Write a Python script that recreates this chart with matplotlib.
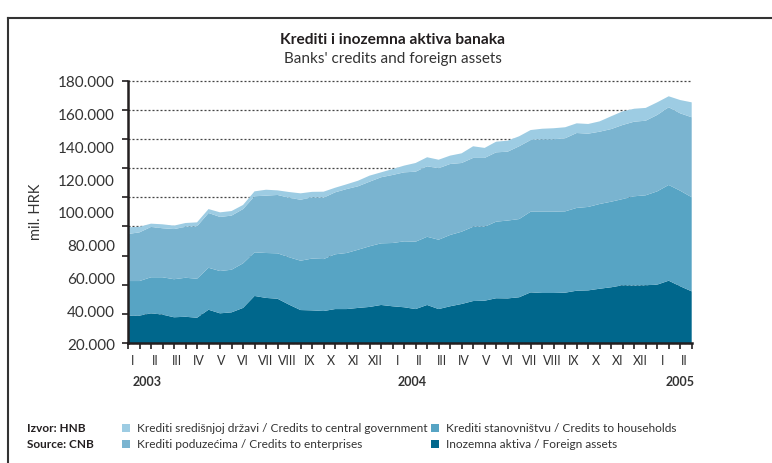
import numpy as np
import matplotlib
matplotlib.use('Agg')
import matplotlib.pyplot as plt
from matplotlib.lines import Line2D
from matplotlib.patches import Rectangle
import matplotlib.transforms as mtransforms

plt.rcParams['font.family'] = ['Lato', 'DejaVu Sans']

# ---------------- data (mil. HRK) ----------------
months = ['I', 'II', 'III', 'IV', 'V', 'VI', 'VII', 'VIII', 'IX', 'X', 'XI', 'XII',
          'I', 'II', 'III', 'IV', 'V', 'VI', 'VII', 'VIII', 'IX', 'X', 'XI', 'XII',
          'I', 'II']
years = ['2003', '2004', '2005']
y_labels = ['20.000', '40.000', '60.000', '80.000', '100.000', '120.000',
            '140.000', '160.000', '180.000']

foreign = [36700, 36700, 38100, 37300, 35700, 36000, 35400, 40300, 38100, 38700,
           41400, 48700, 47500, 47000, 43400, 40100, 39900, 39500, 40700, 40700,
           41400, 42000, 43200, 42400, 41800, 40700, 43200, 40700, 42400, 43800,
           45600, 45800, 47300, 47200, 47900, 50900, 50500, 50500, 50700, 51900,
           52100, 53100, 54000, 55200, 55000, 55200, 55600, 58000, 54600, 51500]
households = [21100, 21100, 22000, 22800, 23200, 23800, 23800, 25600, 25800, 26000,
              27200, 26600, 27400, 27700, 28900, 30100, 31600, 31700, 33400, 34200,
              35500, 37000, 37600, 38600, 40200, 41100, 41600, 42300, 43500, 44100,
              45300, 45100, 46700, 47500, 47700, 49200, 49600, 49600, 49600, 50500,
              50900, 51700, 52200, 52600, 54500, 54900, 56900, 58400, 58300, 57400]
enterprises = [28700, 29700, 30700, 29900, 30600, 31100, 32000, 33400, 33000, 33000,
               33100, 34200, 35000, 35600, 36300, 37200, 37400, 37400, 37800, 39000,
               38700, 39400, 40300, 41500, 42100, 42700, 43000, 43600, 43300, 41900,
               42000, 42000, 42300, 42000, 44400, 43700, 44200, 44200, 44600, 45700,
               44700, 44100, 44300, 45200, 45500, 45500, 46600, 47400, 47200, 48800]
government = [4100, 3400, 2000, 2400, 2100, 2300, 2400, 2400, 2800, 2800,
              2500, 3000, 3600, 2800, 3500, 3900, 3300, 3700, 2800, 2900,
              3400, 3700, 3000, 3600, 4100, 5300, 5500, 5200, 5100, 5900,
              7100, 6100, 6500, 6700, 6100, 6100, 6400, 6700, 6700, 5900,
              5900, 6300, 7800, 8300, 7900, 7800, 7700, 6700, 8100, 9100]

legend_labels = ['Krediti središnjoj državi / Credits to central government',
                 'Krediti stanovništvu / Credits to households',
                 'Krediti poduzećima / Credits to enterprises',
                 'Inozemna aktiva / Foreign assets']

# ---------------- style ----------------
c_foreign = '#00678c'
c_house = '#57a4c4'
c_enter = '#7ab4d0'
c_gov = '#9dcce3'
ink = '#231f20'
txt = '#333333'

W, H = 772, 464
def fx(x): return x / W
def fy(y): return 1 - y / H

fig = plt.figure(figsize=(W / 100, H / 100), dpi=100)
fig.patch.set_facecolor('white')

ax = fig.add_axes([fx(128), fy(344), fx(691.7) - fx(128), fy(81.7) - fy(344)])
x = np.arange(len(foreign))
ax.stackplot(x, foreign, households, enterprises, government,
             colors=[c_foreign, c_house, c_enter, c_gov], linewidth=0, zorder=2)
ax.set_xlim(0, len(foreign) - 1)
ax.set_ylim(20000, 180000)

# y axis: labels evenly spread, tick marks / grid at 10 positions
ax.yaxis.remove_overlapping_locs = False
ax.set_yticks(np.arange(20000, 180001, 20000), labels=y_labels)
ax.tick_params(axis='y', which='major', length=0, pad=9.5, labelsize=11, labelcolor=txt)
grid_pos = np.linspace(20000, 180000, 10)
ax.set_yticks(grid_pos, minor=True)
ax.tick_params(axis='y', which='minor', length=4, width=1.2, direction='out', color=ink)
for yv in grid_pos:
    ax.axhline(yv, linestyle=(0, (1.6, 1.6)), color='#444444', linewidth=0.9,
               zorder=0.5, clip_on=False)

# x axis: tick mark at every data point, month labels independent
ax.set_xticks(x, labels=[''] * len(x))
ax.tick_params(axis='x', which='major', length=4.5, width=1.2, direction='out', color=ink)
label_pos = np.linspace(0.43, 48.35, len(months))
ax.set_xticks(label_pos, labels=months, minor=True)
ax.tick_params(axis='x', which='minor', length=0, pad=8, labelsize=9, labelcolor=txt)

trans = mtransforms.blended_transform_factory(ax.transData, ax.transAxes)
for yr, xp in zip(years, [1.63, 24.67, 48.0]):
    ax.text(xp, -0.1437, yr, transform=trans, ha='center', va='center',
            fontsize=9, fontweight='bold', color=txt)

for s in ['top', 'right']:
    ax.spines[s].set_visible(False)
for s in ['left', 'bottom']:
    ax.spines[s].set_linewidth(1.8)
    ax.spines[s].set_color(ink)
    ax.spines[s].set_zorder(3)

# titles
fig.text(fx(393), fy(40), 'Krediti i inozemna aktiva banaka', ha='center', va='center',
         fontsize=11.2, fontweight='bold', color=ink)
fig.text(fx(393), fy(59), "Banks' credits and foreign assets", ha='center', va='center',
         fontsize=11, color=txt)
fig.text(fx(36), fy(212), 'mil. HRK', rotation=90, ha='center', va='center',
         fontsize=10.5, color=txt)

# source + legend
fig.text(fx(27), fy(429), 'Izvor: HNB', ha='left', va='center', fontsize=8.5,
         fontweight='bold', color=ink)
fig.text(fx(27), fy(445), 'Source: CNB', ha='left', va='center', fontsize=8.5,
         fontweight='bold', color=ink)
leg_items = [(122, 429, c_gov, legend_labels[0]),
             (431, 429, c_house, legend_labels[1]),
             (122, 445, c_enter, legend_labels[2]),
             (431, 445, c_foreign, legend_labels[3])]
for px, py, col, lab in leg_items:
    fig.add_artist(Rectangle((fx(px), fy(py + 4)), 8 / W, 8 / H, facecolor=col,
                             edgecolor='none', transform=fig.transFigure))
    fig.text(fx(px + 15), fy(py), lab, ha='left', va='center', fontsize=8.6, color=txt)

# outer frame (top and left edges visible)
fig.add_artist(Line2D([fx(8), 1.0], [fy(19), fy(19)], color='#333333', lw=1.5,
                      transform=fig.transFigure))
fig.add_artist(Line2D([fx(8), fx(8)], [fy(19), 0.0], color='#333333', lw=1.5,
                      transform=fig.transFigure))

fig.savefig('out.png', dpi=100)
